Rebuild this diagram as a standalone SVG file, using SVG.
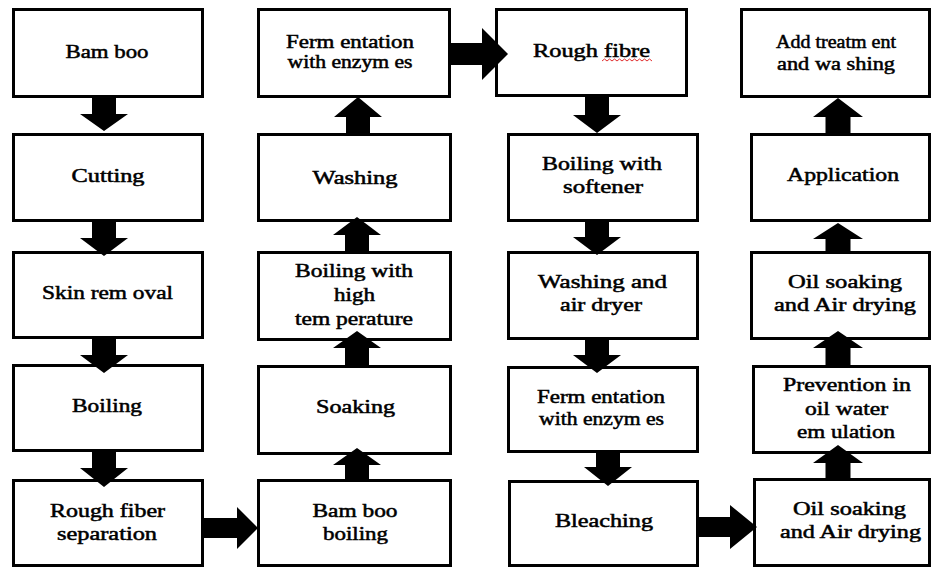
<svg xmlns="http://www.w3.org/2000/svg" width="934" height="570" viewBox="0 0 934 570">
<style>
.box{fill:#ffffff;stroke:#000000;stroke-width:3}
.t{font-family:'Liberation Serif','DejaVu Serif','Times New Roman',serif;font-size:18px;font-weight:normal;fill:#000000;text-anchor:middle;stroke:#000000;stroke-width:0.5}
.arrow{fill:#000000;stroke:none}
</style>
<rect x="0" y="0" width="934" height="570" fill="#ffffff"/>
<g id="nodes">
<g id="n-bamboo"><rect class="box" x="13.5" y="9.5" width="189" height="87"/><text class="t" x="107" y="58" textLength="83" lengthAdjust="spacingAndGlyphs">Bam boo</text></g>
<g id="n-cutting"><rect class="box" x="13.5" y="134.5" width="189" height="86"/><text class="t" x="108" y="182" textLength="73" lengthAdjust="spacingAndGlyphs">Cutting</text></g>
<g id="n-skin"><rect class="box" x="13.5" y="252.5" width="189" height="85"/><text class="t" x="107.5" y="299" textLength="131" lengthAdjust="spacingAndGlyphs">Skin rem oval</text></g>
<g id="n-boiling"><rect class="box" x="13.5" y="365.5" width="189" height="85"/><text class="t" x="107" y="412" textLength="70" lengthAdjust="spacingAndGlyphs">Boiling</text></g>
<g id="n-roughsep"><rect class="box" x="13.5" y="480.5" width="189" height="85"/><text class="t" x="107.5" y="517" textLength="115" lengthAdjust="spacingAndGlyphs">Rough fiber</text><text class="t" x="107" y="540" textLength="100" lengthAdjust="spacingAndGlyphs">separation</text></g>

<g id="n-ferm1"><rect class="box" x="258.5" y="9.5" width="191" height="87"/><text class="t" x="350" y="48" textLength="128" lengthAdjust="spacingAndGlyphs">Ferm entation</text><text class="t" x="350" y="68" textLength="125" lengthAdjust="spacingAndGlyphs">with enzym es</text></g>
<g id="n-washing"><rect class="box" x="258.5" y="134.5" width="192" height="86"/><text class="t" x="355" y="184" textLength="85" lengthAdjust="spacingAndGlyphs">Washing</text></g>
<g id="n-boilhigh"><rect class="box" x="258.5" y="252.5" width="192" height="87"/><text class="t" x="354" y="277" textLength="118" lengthAdjust="spacingAndGlyphs">Boiling with</text><text class="t" x="354.5" y="301" textLength="41" lengthAdjust="spacingAndGlyphs">high</text><text class="t" x="354" y="325" textLength="118" lengthAdjust="spacingAndGlyphs">tem perature</text></g>
<g id="n-soaking"><rect class="box" x="258.5" y="366.5" width="192" height="87"/><text class="t" x="355.5" y="413" textLength="79" lengthAdjust="spacingAndGlyphs">Soaking</text></g>
<g id="n-bamboil"><rect class="box" x="258.5" y="480.5" width="192" height="85"/><text class="t" x="355" y="517" textLength="85" lengthAdjust="spacingAndGlyphs">Bam boo</text><text class="t" x="355.5" y="540" textLength="65" lengthAdjust="spacingAndGlyphs">boiling</text></g>

<g id="n-roughfibre"><rect class="box" x="496.5" y="9.5" width="190" height="86"/><text class="t" x="591.5" y="57" textLength="117" lengthAdjust="spacingAndGlyphs">Rough fibre</text><path d="M602 61 l2.5 -2 l2.5 2 l2.5 -2 l2.5 2 l2.5 -2 l2.5 2 l2.5 -2 l2.5 2 l2.5 -2 l2.5 2 l2.5 -2 l2.5 2 l2.5 -2 l2.5 2 l2.5 -2 l2.5 2 l2.5 -2 l2.5 2 l2.5 -2 l2.5 2" fill="none" stroke="#e03030" stroke-width="1"/></g>
<g id="n-softener"><rect class="box" x="508.5" y="134.5" width="189" height="86"/><text class="t" x="602" y="170" textLength="120" lengthAdjust="spacingAndGlyphs">Boiling with</text><text class="t" x="603" y="193" textLength="80" lengthAdjust="spacingAndGlyphs">softener</text></g>
<g id="n-washair"><rect class="box" x="508.5" y="252.5" width="189" height="86"/><text class="t" x="602.5" y="288" textLength="129" lengthAdjust="spacingAndGlyphs">Washing and</text><text class="t" x="601" y="311" textLength="82" lengthAdjust="spacingAndGlyphs">air dryer</text></g>
<g id="n-ferm2"><rect class="box" x="508.5" y="367.5" width="189" height="84"/><text class="t" x="601" y="403" textLength="128" lengthAdjust="spacingAndGlyphs">Ferm entation</text><text class="t" x="601.5" y="425" textLength="125" lengthAdjust="spacingAndGlyphs">with enzym es</text></g>
<g id="n-bleaching"><rect class="box" x="509.5" y="481.5" width="188" height="84"/><text class="t" x="604" y="527" textLength="98" lengthAdjust="spacingAndGlyphs">Bleaching</text></g>

<g id="n-addtreat"><rect class="box" x="741.5" y="9.5" width="188" height="87"/><text class="t" x="836" y="48" textLength="120" lengthAdjust="spacingAndGlyphs">Add treatm ent</text><text class="t" x="836" y="70" textLength="118" lengthAdjust="spacingAndGlyphs">and wa shing</text></g>
<g id="n-application"><rect class="box" x="751.5" y="134.5" width="178" height="86"/><text class="t" x="843" y="181" textLength="112" lengthAdjust="spacingAndGlyphs">Application</text></g>
<g id="n-oil1"><rect class="box" x="751.5" y="252.5" width="178" height="86"/><text class="t" x="845" y="288" textLength="114" lengthAdjust="spacingAndGlyphs">Oil soaking</text><text class="t" x="845" y="311" textLength="142" lengthAdjust="spacingAndGlyphs">and Air drying</text></g>
<g id="n-prevention"><rect class="box" x="753.5" y="366.5" width="176" height="86"/><text class="t" x="847" y="391" textLength="128" lengthAdjust="spacingAndGlyphs">Prevention in</text><text class="t" x="846.5" y="415" textLength="83" lengthAdjust="spacingAndGlyphs">oil water</text><text class="t" x="846" y="438" textLength="98" lengthAdjust="spacingAndGlyphs">em ulation</text></g>
<g id="n-oil2"><rect class="box" x="754.5" y="479.5" width="175" height="86"/><text class="t" x="849.5" y="515" textLength="113" lengthAdjust="spacingAndGlyphs">Oil soaking</text><text class="t" x="850.5" y="538" textLength="141" lengthAdjust="spacingAndGlyphs">and Air drying</text></g>
</g>
<g id="connectors">
<polygon class="arrow" points="92,98 116,98 116,114 128,114 104,131 80,114 92,114"/>
<polygon class="arrow" points="92,222 116,222 116,238 128,238 104,256 80,238 92,238"/>
<polygon class="arrow" points="92,339 116,339 116,355 128,355 104,373 80,355 92,355"/>
<polygon class="arrow" points="92,452 116,452 116,468 128,468 104,487 80,468 92,468"/>

<polygon class="arrow" points="204,518 237,518 237,507 258,528 237,549 237,538 204,538"/>

<polygon class="arrow" points="345,479 369,479 369,465 381,465 357,448 333,465 345,465"/>
<polygon class="arrow" points="345,365 369,365 369,348 381,348 357,331 333,348 345,348"/>
<polygon class="arrow" points="345,251 369,251 369,235 381,235 357,217 333,235 345,235"/>
<polygon class="arrow" points="346,133 370,133 370,117 382,117 358,97 334,117 346,117"/>

<polygon class="arrow" points="450,43 482,43 482,28 508,54 482,80 482,65 450,65"/>

<polygon class="arrow" points="585,97 609,97 609,115 621,115 597,133 573,115 585,115"/>
<polygon class="arrow" points="585,222 609,222 609,237 621,237 597,255 573,237 585,237"/>
<polygon class="arrow" points="585,340 609,340 609,355 621,355 597,373 573,355 585,355"/>
<polygon class="arrow" points="596,453 620,453 620,467 632,467 608,486 584,467 596,467"/>

<polygon class="arrow" points="698,517 730,517 730,505 757,527 730,549 730,537 698,537"/>

<polygon class="arrow" points="825.5,478 850.5,478 850.5,463 863,463 838,445 813,463 825.5,463"/>
<polygon class="arrow" points="825.5,365 850.5,365 850.5,348 863,348 838,331 813,348 825.5,348"/>
<polygon class="arrow" points="825.5,251 850.5,251 850.5,239 863,239 838,223 813,239 825.5,239"/>
<polygon class="arrow" points="825.5,133 850.5,133 850.5,117 863,117 838,98 813,117 825.5,117"/>
</g>
</svg>
